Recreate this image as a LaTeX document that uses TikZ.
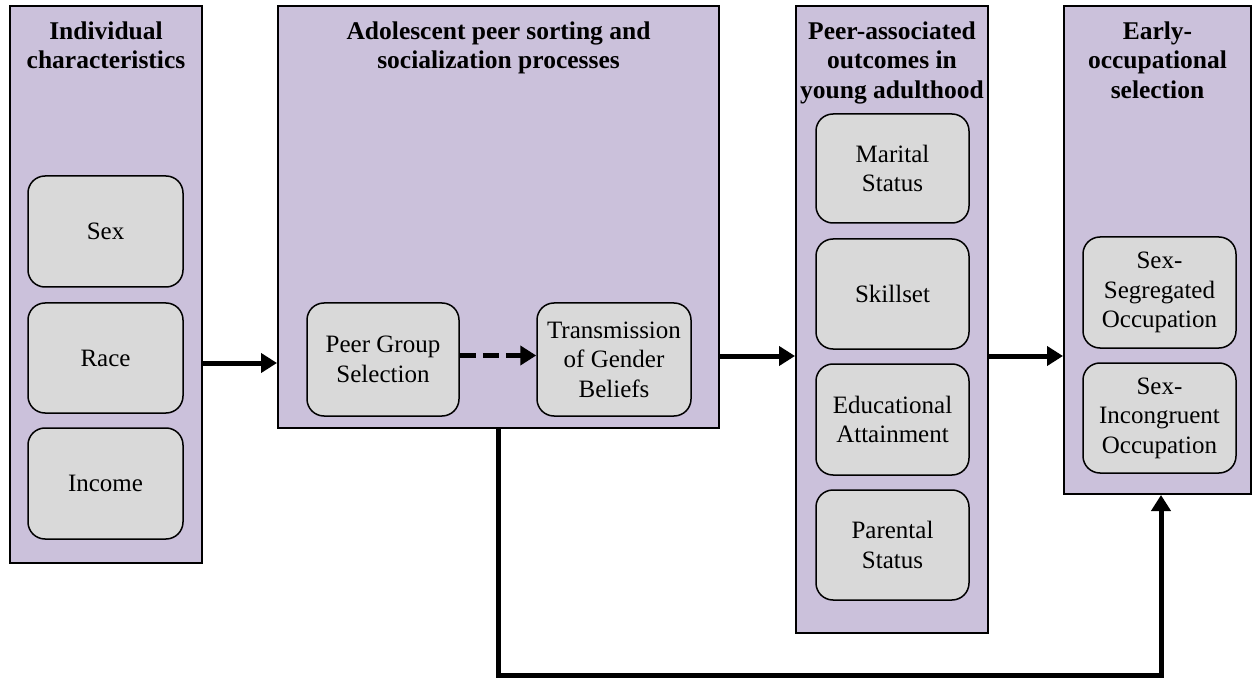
\documentclass[tikz,border=0pt]{standalone}
\usepackage{fontspec}
\setmainfont{Liberation Serif}
\usetikzlibrary{arrows.meta}
\definecolor{lav}{RGB}{203,193,219}
\definecolor{lgray}{RGB}{217,217,217}
\tikzset{
  bigbox/.style={draw=black, line width=2pt, fill=lav, inner sep=0pt},
  inbox/.style={draw=black, line width=1.5pt, fill=lgray, rounded corners=17pt,
    inner sep=0pt, align=center, font=\fontsize{25}{29.5}\selectfont},
  ttl/.style={anchor=north, align=center, inner sep=0pt,
    font=\fontsize{25.5}{29.5}\selectfont\bfseries},
  arr/.style={line width=5pt, -{Triangle[length=16pt,width=19pt]}},
}
\begin{document}
\begin{tikzpicture}[x=1pt,y=-1pt]
\useasboundingbox (0,0) rectangle (1254,679);
% big boxes
\node[bigbox, minimum width=192pt, minimum height=557pt] (b1) at (106,284.5) {};
\node[bigbox, minimum width=441pt, minimum height=422pt] (b2) at (498.5,217) {};
\node[bigbox, minimum width=192pt, minimum height=627pt] (b3) at (892,319.5) {};
\node[bigbox, minimum width=187pt, minimum height=488pt] (b4) at (1157.5,250) {};
% titles
\node[ttl] (t1) at (106,21.5) {Individual\\characteristics};
\node[ttl] (t2) at (498.5,21.5) {Adolescent peer sorting and\\socialization processes};
\node[ttl] (t3) at (892,21.5) {Peer-associated\\outcomes in\\young adulthood};
\node[ttl] (t4) at (1157.5,21.5) {Early-\\occupational\\selection};
% inner boxes
\node[inbox, minimum width=155pt, minimum height=111pt] (sex) at (105.5,231.5) {Sex};
\node[inbox, minimum width=155pt, minimum height=110pt] (race) at (105.5,358) {Race};
\node[inbox, minimum width=155pt, minimum height=111pt] (inc) at (105.5,483.5) {Income};
\node[inbox, minimum width=152pt, minimum height=113pt] (pg) at (383,359.5) {Peer Group\\Selection};
\node[inbox, minimum width=154pt, minimum height=113pt] (tg) at (614,359.5) {Transmission\\of Gender\\Beliefs};
\node[inbox, minimum width=153pt, minimum height=109pt] (mar) at (892.5,168.5) {Marital\\Status};
\node[inbox, minimum width=153pt, minimum height=110pt] (ski) at (892.5,294) {Skillset};
\node[inbox, minimum width=153pt, minimum height=111pt] (edu) at (892.5,419.5) {Educational\\Attainment};
\node[inbox, minimum width=153pt, minimum height=110pt] (par) at (892.5,545) {Parental\\Status};
\node[inbox, minimum width=153pt, minimum height=111pt] (seg) at (1159.5,292.5) {Sex-\\Segregated\\Occupation};
\node[inbox, minimum width=153pt, minimum height=110pt] (inc2) at (1159.5,418) {Sex-\\Incongruent\\Occupation};
% connectors
\coordinate (ya) at (0,363);
\coordinate (yb) at (0,356);
\coordinate (yc) at (0,355.5);
\coordinate (cb) at (1161,675);
\draw[arr] (b1.east |- ya) -- (b2.west |- ya);
\draw[arr] (b2.east |- yb) -- (b3.west |- yb);
\draw[arr] (b3.east |- yb) -- (b4.west |- yb);
\draw[arr, dash pattern=on 16pt off 7pt] (pg.east |- yc) -- (tg.west |- yc);
\draw[arr] (b2.south) |- (cb) -- (cb |- b4.south);
\end{tikzpicture}
\end{document}
